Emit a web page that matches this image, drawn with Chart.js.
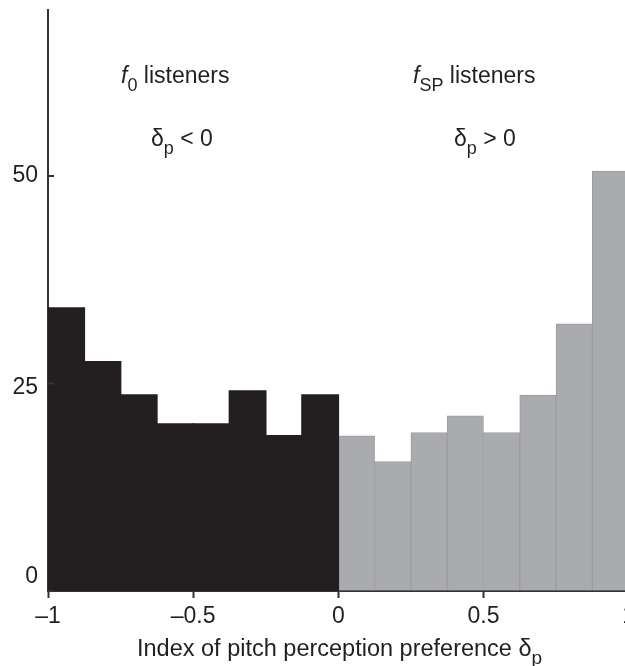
<!DOCTYPE html>
<html>
<head>
<meta charset="utf-8">
<script src="https://cdn.jsdelivr.net/npm/chart.js@4/dist/chart.umd.min.js"></script>
<style>
  html, body { margin: 0; padding: 0; background: #fff; overflow: hidden; }
  canvas { display: block; }
</style>
</head>
<body>
<canvas id="histograma" width="640" height="666"></canvas>
<script>
// centros das classes (largura 0.125)
const centrosF0 = [-0.9375, -0.8125, -0.6875, -0.5625, -0.4375, -0.3125, -0.1875, -0.0625];
const centrosFsp = [0.0625, 0.1875, 0.3125, 0.4375, 0.5625, 0.6875, 0.8125, 0.9375];

// contagens
const contagensF0 = [34.1, 27.6, 23.6, 20.1, 20.1, 24.1, 18.7, 23.6];
const contagensFsp = [18.7, 15.6, 19.1, 21.1, 19.1, 23.6, 32.2, 50.6];

const ticksY = [0, 25, 50];

const corTexto = "#231f20";
const fonte = "Liberation Sans, Arial, sans-serif";

function pontos(xs, ys) {
    return xs.map((x, i) => ({ x: x, y: ys[i] }));
}

function rotuloX(valor) {
    if (valor === 0) return "0";
    const txt = String(Math.abs(valor));
    return valor < 0 ? "\u2013" + txt : txt;
}

// desenha pedacos de texto em sequencia (normal, italico, subscrito)
function textoComposto(ctx, x, y, partes, tam) {
    let cx = x;
    partes.forEach(p => {
        const t = p.sub ? Math.round(tam * 0.8) : tam;
        ctx.font = (p.italico ? "italic " : "") + t + "px " + fonte;
        ctx.fillText(p.t, cx, p.sub ? y + 8 : y);
        cx += ctx.measureText(p.t).width;
    });
}

const anotacoes = {
    id: "anotacoes",
    afterDraw(chart) {
        const ctx = chart.ctx;
        const y = chart.scales.y;
        const area = chart.chartArea;

        ctx.save();
        ctx.fillStyle = corTexto;
        ctx.strokeStyle = "#333";
        ctx.lineWidth = 2;

        // rotulos e marcas do eixo y (marcas para dentro)
        ctx.textAlign = "right";
        ctx.textBaseline = "middle";
        ctx.font = "23px " + fonte;
        ticksY.forEach(v => {
            const py = y.getPixelForValue(v);
            ctx.beginPath();
            ctx.moveTo(area.left, py);
            ctx.lineTo(area.left + 6, py);
            ctx.stroke();
            let ly = py;
            if (v === 0) ly = py - 14;
            if (v === 25) ly = py + 4;
            ctx.fillText(String(v), area.left - 10, ly);
        });

        ctx.textAlign = "left";
        ctx.textBaseline = "alphabetic";

        textoComposto(ctx, 121, 83, [
            { t: "f", italico: true }, { t: "0", sub: true }, { t: " listeners" }
        ], 23);
        textoComposto(ctx, 151, 146, [
            { t: "\u03b4" }, { t: "p", sub: true }, { t: " < 0" }
        ], 23);
        textoComposto(ctx, 413, 83, [
            { t: "f", italico: true }, { t: "SP", sub: true }, { t: " listeners" }
        ], 23);
        textoComposto(ctx, 454, 146, [
            { t: "\u03b4" }, { t: "p", sub: true }, { t: " > 0" }
        ], 23);

        // titulo do eixo x
        textoComposto(ctx, 137, 656, [
            { t: "Index of pitch perception preference \u03b4" }, { t: "p", sub: true }
        ], 23.5);

        ctx.restore();
    }
};

new Chart(document.getElementById("histograma"), {
    type: "bar",
    data: {
        datasets: [
            {
                label: "f0",
                data: pontos(centrosF0, contagensF0),
                backgroundColor: "#231f20",
                borderWidth: 0,
                inflateAmount: 0.8
            },
            {
                label: "fSP",
                data: pontos(centrosFsp, contagensFsp),
                backgroundColor: "#aaabae",
                borderColor: "#9c9da0",
                borderWidth: 1
            }
        ]
    },
    options: {
        responsive: false,
        animation: false,
        devicePixelRatio: 1,
        layout: { padding: { top: 10, right: 11, bottom: 0, left: 0 } },
        datasets: {
            bar: { barPercentage: 1, categoryPercentage: 1, grouped: false }
        },
        plugins: {
            legend: { display: false },
            tooltip: { enabled: false }
        },
        scales: {
            x: {
                type: "linear",
                min: -1,
                max: 1,
                offset: false,
                afterFit(scale) { scale.height = 75; },
                ticks: {
                    stepSize: 0.5,
                    autoSkip: false,
                    color: corTexto,
                    font: { family: fonte, size: 23 },
                    padding: 5,
                    maxRotation: 0,
                    callback: v => rotuloX(v)
                },
                grid: { offset: false, drawOnChartArea: false, tickLength: 7, tickColor: "#333", tickWidth: 2 },
                border: { color: "#333", width: 2 }
            },
            y: {
                min: 0,
                max: 70,
                afterFit(scale) { scale.width = 48; },
                afterBuildTicks(scale) { scale.ticks = ticksY.map(v => ({ value: v })); },
                ticks: { display: false },
                grid: { drawOnChartArea: false, drawTicks: false },
                border: { color: "#333", width: 2 }
            }
        }
    },
    plugins: [anotacoes]
});
</script>
</body>
</html>
